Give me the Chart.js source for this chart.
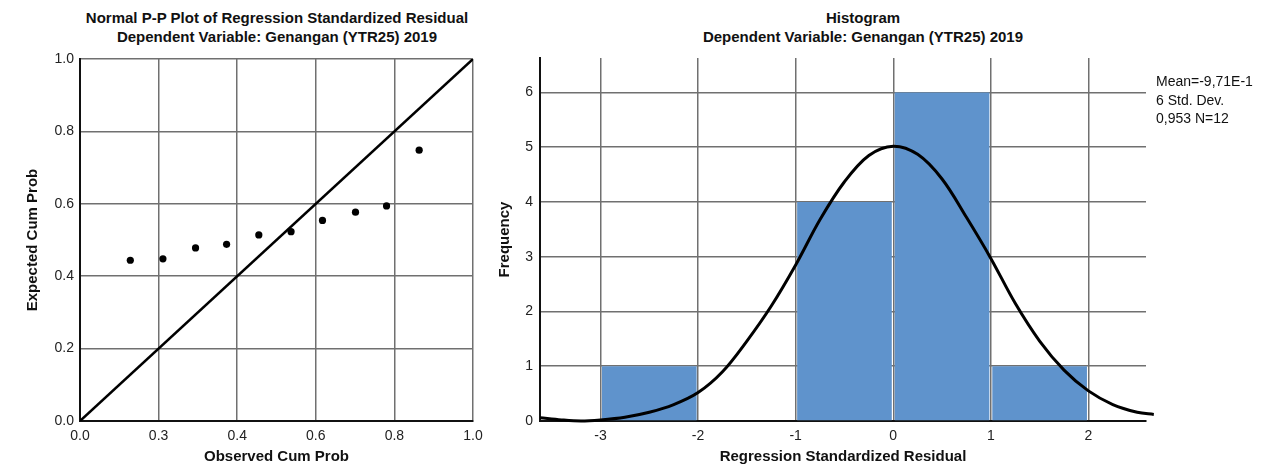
<!DOCTYPE html>
<html>
<head>
<meta charset="utf-8">
<script src="https://cdn.jsdelivr.net/npm/chart.js@4.4.0/dist/chart.umd.min.js"></script>
<style>
  html, body { margin: 0; padding: 0; background: #fff; }
  body { width: 1284px; height: 467px; position: relative; overflow: hidden; font-family: "Liberation Sans", Arial, sans-serif; }
  .title { position: absolute; top: 9px; width: 440px; font-weight: bold; font-size: 15px; line-height: 18.5px; text-align: center; color: #111; white-space: nowrap; }
  #ppBox { position: absolute; left: 0; top: 0; width: 490px; height: 467px; }
  #histBox { position: absolute; left: 490px; top: 0; width: 794px; height: 467px; }
  #stats { position: absolute; left: 1156px; top: 72px; font-size: 14px; line-height: 18.5px; color: #111; white-space: nowrap; }
</style>
</head>
<body>
<div class="title" style="left:57px">Normal P-P Plot of Regression Standardized Residual<br>Dependent Variable: Genangan (YTR25) 2019</div>
<div class="title" style="left:643px">Histogram<br>Dependent Variable: Genangan (YTR25) 2019</div>
<div id="ppBox"><canvas id="ppChart"></canvas></div>
<div id="histBox"><canvas id="histChart"></canvas></div>
<div id="stats"></div>

<script>
// P-P plot data
const ppObserved = [0.128, 0.211, 0.294, 0.373, 0.455, 0.537, 0.617, 0.701, 0.780, 0.863];
const ppExpected = [0.444, 0.448, 0.478, 0.488, 0.514, 0.523, 0.554, 0.577, 0.594, 0.748];
const ppXTickLabels = ['0.0', '0.3', '0.4', '0.6', '0.8', '1.0'];
const ppYTickLabels = ['0.0', '0.2', '0.4', '0.6', '0.8', '1.0'];
const diagonalEnds = [0, 1];

// Histogram data
const binCenters = [-2.5, -0.5, 0.5, 1.5];
const binCounts = [1, 4, 6, 1];

// Normal curve as drawn
const curveX = [-3.62, -3.4, -3.2, -3.0, -2.75, -2.5, -2.25, -2.0, -1.75, -1.5, -1.25, -1.0, -0.75, -0.5, -0.25, 0, 0.25, 0.5, 0.75, 1.0, 1.25, 1.5, 1.75, 2.0, 2.25, 2.5, 2.67];
const curveY = [0.06, 0.02, 0.0, 0.02, 0.07, 0.16, 0.3, 0.52, 0.9, 1.46, 2.1, 2.85, 3.68, 4.37, 4.85, 5.02, 4.87, 4.42, 3.72, 2.97, 2.15, 1.46, 0.93, 0.55, 0.3, 0.16, 0.12];

const statsLines = ['Mean=-9,71E-1', '6 Std. Dev.', '0,953 N=12'];

document.getElementById('stats').innerHTML = statsLines.join('<br>');

Chart.defaults.font.family = "'Liberation Sans', Arial, sans-serif";
Chart.defaults.font.size = 14;
Chart.defaults.color = '#222';
Chart.defaults.animation = false;

const gridGray = '#707070';
const axisTitleFont = { size: 15, weight: 'bold' };

// Normal P-P plot
new Chart(document.getElementById('ppChart'), {
  type: 'scatter',
  data: {
    datasets: [
      {
        data: diagonalEnds.map(v => ({ x: v, y: v })),
        showLine: true,
        borderColor: '#000',
        borderWidth: 2.5,
        pointRadius: 0
      },
      {
        data: ppObserved.map((x, i) => ({ x: x, y: ppExpected[i] })),
        backgroundColor: '#000',
        borderColor: '#000',
        pointRadius: 3.6,
        borderWidth: 0
      }
    ]
  },
  options: {
    responsive: true,
    maintainAspectRatio: false,
    layout: { padding: { top: 59, right: 17, left: 0, bottom: 0 } },
    plugins: { legend: { display: false }, tooltip: { enabled: false } },
    scales: {
      x: {
        min: 0,
        max: 1,
        afterFit: s => { s.height = 46; },
        ticks: { stepSize: 0.2, padding: 7, maxRotation: 0, callback: (v, i) => ppXTickLabels[i] },
        grid: { color: gridGray, lineWidth: 1.5, drawTicks: false },
        border: { color: '#111', width: 2 },
        title: { display: true, text: 'Observed Cum Prob', font: axisTitleFont, color: '#111', padding: { top: 0, bottom: 1 } }
      },
      y: {
        min: 0,
        max: 1,
        afterFit: s => { s.width = 80; },
        ticks: { stepSize: 0.2, padding: 6, callback: (v, i) => ppYTickLabels[i] },
        grid: { color: gridGray, lineWidth: 1.5, drawTicks: false },
        border: { color: '#111', width: 2 },
        title: { display: true, text: 'Expected Cum Prob', font: axisTitleFont, color: '#111', padding: { top: 24, bottom: 0 } }
      }
    }
  }
});

// Histogram with normal curve
new Chart(document.getElementById('histChart'), {
  type: 'bar',
  data: {
    datasets: [
      {
        type: 'line',
        data: curveX.map((x, i) => ({ x: x, y: curveY[i] })),
        borderColor: '#000',
        borderWidth: 3,
        pointRadius: 0,
        tension: 0.35,
        clip: false,
        order: 0
      },
      {
        type: 'bar',
        data: binCenters.map((x, i) => ({ x: x, y: binCounts[i] })),
        backgroundColor: 'rgb(95, 147, 204)',
        barPercentage: 0.97,
        categoryPercentage: 1,
        order: 1
      }
    ]
  },
  options: {
    responsive: true,
    maintainAspectRatio: false,
    layout: { padding: { top: 58, right: 138, left: 0, bottom: 0 } },
    plugins: { legend: { display: false }, tooltip: { enabled: false } },
    scales: {
      x: {
        type: 'linear',
        min: -3.62,
        max: 2.59,
        offset: false,
        afterFit: s => { s.height = 46; },
        ticks: { stepSize: 1, includeBounds: false, padding: 7, maxRotation: 0 },
        grid: { color: gridGray, lineWidth: 1.5, drawTicks: false, offset: false },
        border: { color: '#111', width: 2 },
        title: { display: true, text: 'Regression Standardized Residual', font: axisTitleFont, color: '#111', padding: { top: 0, bottom: 1 } }
      },
      y: {
        min: 0,
        max: 6.63,
        afterFit: s => { s.width = 50; },
        ticks: { stepSize: 1, includeBounds: false, padding: 7 },
        grid: { color: gridGray, lineWidth: 1.5, drawTicks: false },
        border: { color: '#111', width: 2 },
        title: { display: true, text: 'Frequency', font: axisTitleFont, color: '#111', padding: { top: 6, bottom: 0 } }
      }
    }
  }
});
</script>
</body>
</html>
